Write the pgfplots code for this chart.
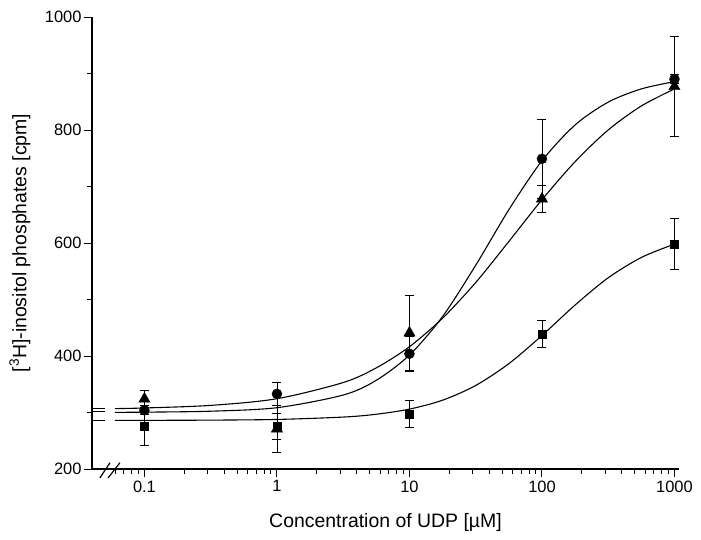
\documentclass[border=0pt]{standalone}
\usepackage{fontspec}
\setmainfont{Liberation Sans}
\usepackage{pgfplots}
\pgfplotsset{compat=1.18}

\begin{document}
\begin{tikzpicture}
\useasboundingbox (-92bp,-71bp) rectangle (609bp,469bp);
\begin{axis}[
  at={(0,0)}, anchor=south west,
  scale only axis, width=587bp, height=452bp,
  xmode=log, xmin=0.0402, xmax=1082,
  ymin=200, ymax=1000,
  axis x line*=bottom, axis y line*=left,
  axis line style={line width=1.3pt},
  xtick={0.1,1,10,100,1000}, xticklabels={0.1,1,10,100,1000},
  minor xtick={0.06,0.07,0.08,0.09,0.2,0.3,0.4,0.5,0.6,0.7,0.8,0.9,
               2,3,4,5,6,7,8,9,20,30,40,50,60,70,80,90,
               200,300,400,500,600,700,800,900},
  ytick={200,400,600,800,1000}, minor ytick={300,500,700,900},
  tick align=outside, major tick length=8bp, minor tick length=5bp,
  every tick/.style={black, line width=1pt},
  /pgf/number format/assume math mode=true,
  tick label style={font=\fontsize{16.5}{19}\selectfont},
  yticklabel style={/pgf/number format/1000 sep={}, xshift=1bp},
  xlabel={Concentration of UDP [\textmu M]},
  ylabel={[\textsuperscript{3}H]-inositol phosphates [cpm]},
  label style={font=\fontsize{19.5}{23}\selectfont},
  xlabel style={at={(axis description cs:0.5,0)}, anchor=base, yshift=-58bp},
  ylabel style={at={(axis description cs:-0.123,0.5)}, anchor=center},
  clip=false,
  error bars/error bar style={line width=0.7pt, black},
  error bars/error mark options={rotate=90, mark size=4.5bp, line width=0.7pt, black},
]
% fitted curves
\addplot[black, line width=1.1pt, smooth] coordinates {
  (0.0599,300.3) (0.1,300.6) (0.316,302.3) (1,308.5) (3.16,330.9) (5.62,357)
  (10,401.7) (17.8,470) (31.6,560.5) (56.2,658.8) (100,745.5) (178,809)
  (316,849.3) (562,872.7) (1000,885.6)};
\addplot[black, line width=1.1pt, smooth] coordinates {
  (0.0599,306.9) (0.1,308) (0.316,312.6) (1,324.4) (3.16,353) (5.62,379)
  (10,416.4) (17.8,467) (31.6,530) (56.2,602.6) (100,676.6) (178,744)
  (316,800) (562,842.5) (1000,872.7)};
\addplot[black, line width=1.1pt, smooth] coordinates {
  (0.0599,286) (0.1,286.1) (0.316,286.5) (1,287.7) (3.16,291.9) (5.62,296.9)
  (10,306) (17.8,321.8) (31.6,347.8) (56.2,386.4) (100,436.3) (178,490.3)
  (316,538.4) (562,574.4) (1000,598)};
% short stubs left of the break
\addplot[black, line width=1.1pt] coordinates {(0.041,306.5) (0.0503,306.5)};
\addplot[black, line width=1.1pt] coordinates {(0.041,301) (0.0503,301)};
\addplot[black, line width=1.1pt] coordinates {(0.041,285.5) (0.0503,285.5)};
% data points
\addplot[only marks, mark=*, mark size=5bp, black,
  error bars/.cd, y dir=both, y explicit] coordinates {
  (0.1,304) +- (0,8)
  (1,333) +- (0,20)
  (10,404) +- (0,31)
  (100,749) +- (0,70)
  (1000,890) += (0,76) -= (0,8)};
\addplot[only marks, mark=triangle*, mark size=6.5bp, black,
  error bars/.cd, y dir=both, y explicit] coordinates {
  (0.1,324) +- (0,15)
  (1,271) +- (0,42)
  (10,441) +- (0,67)
  (100,678) +- (0,24)
  (1000,877) += (0,21) -= (0,89)};
\addplot[only marks, mark=square*, mark size=4bp, black,
  error bars/.cd, y dir=both, y explicit] coordinates {
  (0.1,276) +- (0,34)
  (1,276) +- (0,23)
  (10,297) +- (0,24)
  (100,439) +- (0,24)
  (1000,598) +- (0,45)};
% axis break marks
\draw[line width=1.2pt] (axis cs:0.0461,184) -- (axis cs:0.0549,211);
\draw[line width=1.2pt] (axis cs:0.0531,184) -- (axis cs:0.0653,211);
\end{axis}
\end{tikzpicture}
\end{document}
